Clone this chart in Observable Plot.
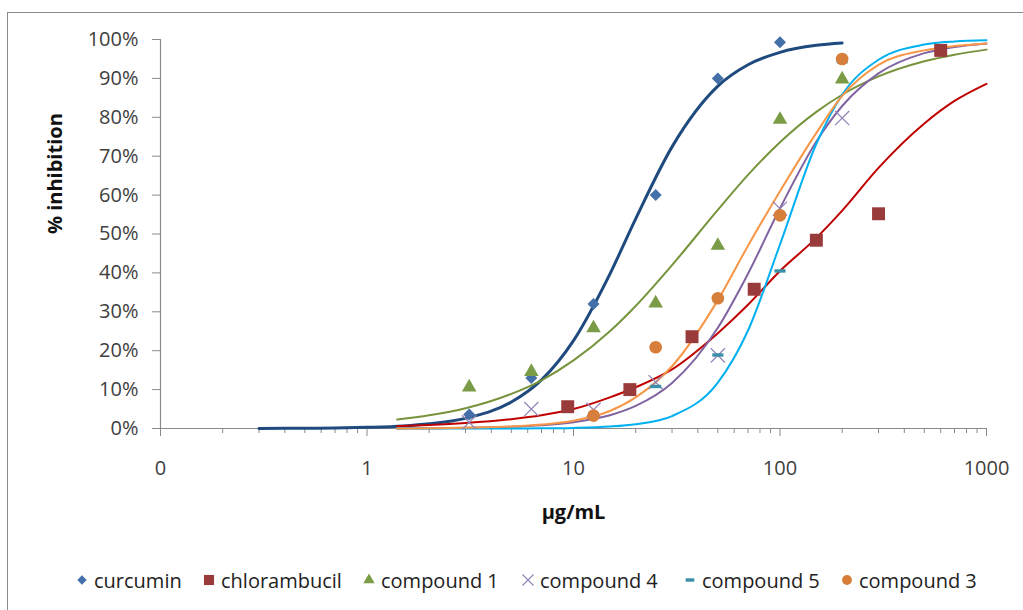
<!DOCTYPE html>
<html>
<head>
<meta charset="utf-8">
<script src="https://cdn.jsdelivr.net/npm/d3@7"></script>
<script src="https://cdn.jsdelivr.net/npm/@observablehq/plot@0.6"></script>
<style>
  html, body { margin: 0; padding: 0; background: #fff; }
  #wrap { position: relative; width: 1023px; height: 610px; overflow: hidden; background: #fff; font-family: "Open Sans", sans-serif; }
  #frame { position: absolute; left: 7px; top: 12px; width: 1100px; height: 700px; border: 1.5px solid #8a8a8a; box-sizing: border-box; }
  #chart { position: absolute; left: 0; top: 0; }
  #legend { position: absolute; left: 0; top: 566px; width: 1023px; height: 28px; font-size: 20px; color: #222; }
  .item { display: flex; align-items: center; position: absolute; top: 0; height: 28px; }
  .item svg { position: absolute; }
</style>
</head>
<body>
<div id="wrap">
  <div id="frame"></div>
  <div id="chart"></div>
  <div id="legend"></div>
</div>
<script>
// ---- Data ----
// measured points: concentration (µg/mL) and % inhibition
const curcuminConc = [3.125, 6.25, 12.5, 25, 50, 100];
const curcuminInh = [3.6, 13, 32, 60, 90, 99.3];
const chlorambucilConc = [9.375, 18.75, 37.5, 75, 150, 300, 600];
const chlorambucilInh = [5.6, 10, 23.6, 35.8, 48.4, 55.2, 97.2];
const compound1Conc = [3.125, 6.25, 12.5, 25, 50, 100, 200];
const compound1Inh = [10.6, 14.6, 25.8, 32.2, 47, 79.4, 89.8];
const compound4Conc = [3.125, 6.25, 12.5, 25, 50, 100, 200];
const compound4Inh = [1.6, 5, 4.8, 11.9, 18.8, 56.5, 79.8];
const compound5Conc = [25, 50, 100, 200];
const compound5Inh = [10.8, 18.9, 40.5, 94.3];
const compound3Conc = [12.5, 25, 50, 100, 200];
const compound3Inh = [3.3, 20.9, 33.5, 54.8, 95];

// fitted curves, read at sample concentrations
const fitConcCurcumin = [0.3, 0.5, 0.7, 1, 1.5, 2, 3, 5, 7, 10, 15, 20, 30, 50, 70, 100, 150, 200];
const fitCurcumin = [0.03, 0.07, 0.14, 0.3, 0.65, 1.2, 2.6, 6.8, 12.5, 22.6, 39.7, 53.9, 72.4, 88, 93.5, 96.7, 98.5, 99.1];
const fitConc = [1.4, 2, 3, 5, 7, 10, 15, 20, 30, 50, 70, 100, 150, 200, 300, 500, 700, 1000];
const fitChlorambucil = [0.6, 0.9, 1.4, 2.4, 3.4, 5.0, 8.0, 10.6, 15.2, 24.5, 31.8, 40.5, 49, 56, 67, 78.4, 84.2, 88.6];
const fitCompound1 = [2.3, 3.4, 5.2, 8.9, 12.4, 17.5, 25, 31.5, 42, 56.2, 65.2, 73.6, 81.4, 85.8, 90.5, 94.4, 96.1, 97.4];
const fitCompound4 = [0.03, 0.08, 0.17, 0.44, 0.83, 1.6, 3.4, 5.8, 11.7, 25.9, 39.8, 56.6, 73.8, 82.9, 91.3, 96.5, 98.1, 99.0];
const fitCompound5 = [0, 0, 0.01, 0.02, 0.05, 0.16, 0.5, 1.1, 3.2, 11.8, 25.2, 47.3, 73.2, 85.8, 94.8, 98.7, 99.5, 99.8];
const fitCompound3 = [0.02, 0.06, 0.2, 0.5, 1.0, 2.0, 4.5, 8, 16, 33, 47, 61, 76, 85.5, 93.5, 97.2, 98.3, 99.0];

// axis ticks
const yTicks = [0, 10, 20, 30, 40, 50, 60, 70, 80, 90, 100];
const xMajorTicks = [0.1, 1, 10, 100, 1000];
const xTickLabels = ["0", "1", "10", "100", "1000"];
const seriesNames = ["curcumin", "chlorambucil", "compound 1", "compound 4", "compound 5", "compound 3"];

// ---- Styles ----
const dashSymbol = {
  draw(ctx, size) {
    const w = Math.sqrt(size) * 1.25, h = 3.4;
    ctx.rect(-w / 2, -h / 2, w, h);
  }
};
const style = {
  "curcumin": {line: "#1f4a7e", lw: 3, mark: "#4470aa", symbol: "diamond2", r: 5.4},
  "chlorambucil": {line: "#c00000", lw: 2, mark: "#993b3a", symbol: "square", r: 7.3},
  "compound 1": {line: "#77933c", lw: 2, mark: "#7b9c47", symbol: "triangle", r: 5.4},
  "compound 4": {line: "#8064a2", lw: 2, mark: "#9487b8", symbol: "times", r: 6.5, stroke: true},
  "compound 5": {line: "#00b0f0", lw: 2, mark: "#3a90a8", symbol: dashSymbol, r: 5},
  "compound 3": {line: "#f79646", lw: 2, mark: "#d67e3a", symbol: "circle", r: 6.3}
};

const points = {
  "curcumin": [curcuminConc, curcuminInh],
  "chlorambucil": [chlorambucilConc, chlorambucilInh],
  "compound 1": [compound1Conc, compound1Inh],
  "compound 4": [compound4Conc, compound4Inh],
  "compound 5": [compound5Conc, compound5Inh],
  "compound 3": [compound3Conc, compound3Inh]
};
const fits = {
  "curcumin": [fitConcCurcumin, fitCurcumin],
  "chlorambucil": [fitConc, fitChlorambucil],
  "compound 1": [fitConc, fitCompound1],
  "compound 4": [fitConc, fitCompound4],
  "compound 5": [fitConc, fitCompound5],
  "compound 3": [fitConc, fitCompound3]
};
const toRows = ([xs, ys]) => xs.map((x, i) => ({x, y: ys[i]}));

const xMinorTicks = [0.1, 1, 10, 100].flatMap(d => [2,3,4,5,6,7,8,9].map(k => +(d * k).toPrecision(3)));
const xLabelOf = d => {
  const i = xMajorTicks.findIndex(t => Math.abs(Math.log10(t) - Math.log10(d)) < 1e-6);
  return i >= 0 ? xTickLabels[i] : "";
};

const axisColor = "#8a8a8a";
const marks = [
  Plot.ruleY([0], {stroke: axisColor, strokeWidth: 1.2}),
  Plot.ruleX([0.1], {stroke: axisColor, strokeWidth: 1.2}),
  Plot.axisY({ticks: yTicks, tickFormat: d => d + "%", tickSize: 8, tickPadding: 14, stroke: axisColor, fontSize: 20, label: null}),
  Plot.axisX({ticks: xMinorTicks, tickFormat: () => "", tickSize: 5, stroke: axisColor, label: null}),
  Plot.axisX({ticks: xMajorTicks, tickFormat: xLabelOf, tickSize: 8, tickPadding: 24, stroke: axisColor, fontSize: 20, label: null}),
  Plot.text(["% inhibition"], {frameAnchor: "left", dx: -105, rotate: -90, fontSize: 20, fontWeight: "bold", fill: "#111"}),
  Plot.text(["\u03BCg/mL"], {frameAnchor: "bottom", dy: 90, fontSize: 20, fontWeight: "bold", fill: "#111"})
];
for (const name of seriesNames) {
  const s = style[name];
  marks.push(Plot.line(toRows(fits[name]), {x: "x", y: "y", stroke: s.line, strokeWidth: s.lw, curve: "monotone-x"}));
}
for (const name of seriesNames) {
  const s = style[name];
  const opts = {x: "x", y: "y", symbol: s.symbol, r: s.r};
  if (s.stroke) { opts.stroke = s.mark; opts.strokeWidth = 1.3; opts.fill = "none"; }
  else { opts.fill = s.mark; opts.stroke = "none"; }
  marks.push(Plot.dot(toRows(points[name]), opts));
}

const chart = Plot.plot({
  width: 1023,
  height: 545,
  marginTop: 39,
  marginBottom: 117,
  marginLeft: 160,
  marginRight: 37,
  style: {fontFamily: "Open Sans, sans-serif", fontSize: "20px", color: "#404040", background: "transparent", overflow: "visible"},
  x: {type: "log", domain: [0.1, 1000]},
  y: {domain: [0, 100]},
  marks
});
document.getElementById("chart").appendChild(chart);

// ---- Legend ----
const legendPos = [82, 209, 369, 528, 690, 847];
const legend = document.getElementById("legend");
seriesNames.forEach((name, i) => {
  const s = style[name];
  const item = document.createElement("div");
  item.className = "item";
  item.style.left = (legendPos[i] - 7) + "px";
  const ns = "http://www.w3.org/2000/svg";
  const svg = document.createElementNS(ns, "svg");
  svg.setAttribute("width", 14); svg.setAttribute("height", 14);
  svg.style.left = "0px"; svg.style.top = "7px";
  const path = document.createElementNS(ns, "path");
  let sym;
  if (typeof s.symbol === "string") {
    const map = {diamond2: d3.symbolDiamond2, square: d3.symbolSquare, triangle: d3.symbolTriangle, times: d3.symbolTimes, circle: d3.symbolCircle};
    sym = map[s.symbol];
  } else sym = s.symbol;
  const rr = s.r * 0.78;
  path.setAttribute("d", d3.symbol(sym, Math.PI * rr * rr)());
  path.setAttribute("transform", "translate(7,7)");
  if (s.stroke) { path.setAttribute("fill", "none"); path.setAttribute("stroke", s.mark); path.setAttribute("stroke-width", 1.2); }
  else path.setAttribute("fill", s.mark);
  svg.appendChild(path);
  item.appendChild(svg);
  const span = document.createElement("span");
  span.textContent = name;
  span.style.marginLeft = "19px";
  span.style.whiteSpace = "nowrap";
  item.appendChild(span);
  legend.appendChild(item);
});
</script>
</body>
</html>
